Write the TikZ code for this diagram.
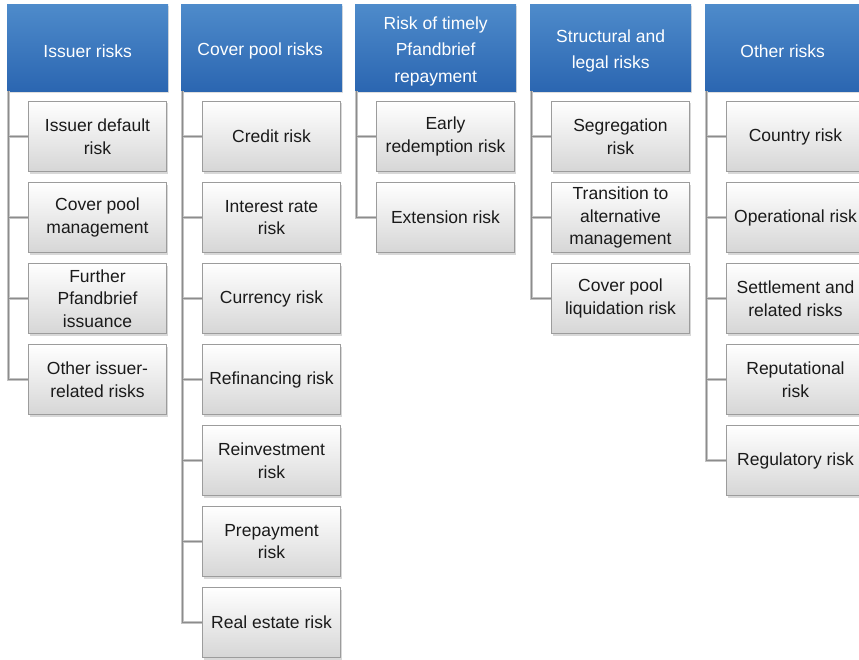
\documentclass[tikz,border=0pt]{standalone}
\usepackage{fontspec}
\setmainfont{Liberation Sans}
\usetikzlibrary{shadows}
\definecolor{hdtop}{HTML}{4E8BCB}
\definecolor{hdbot}{HTML}{2B66B1}
\definecolor{bxbot}{HTML}{D6D6D6}
\definecolor{bxline}{HTML}{9C9C9C}
\definecolor{connc}{HTML}{8C8C8C}
\definecolor{connl}{HTML}{C4C4C4}
\definecolor{txt}{HTML}{1A1A1A}
\tikzset{
  hdr/.style={rectangle, anchor=north west, minimum width=161bp, minimum height=87bp,
    top color=hdtop, bottom color=hdbot, draw=none, inner sep=0pt,
    drop shadow={shadow xshift=1bp, shadow yshift=-1.5bp, opacity=0.25}},
  hdrtext/.style={text=white, align=center, inner sep=0pt,
    font=\fontsize{17.5bp}{26.5bp}\selectfont},
  child/.style={rectangle, anchor=north west, minimum width=138bp, minimum height=70bp,
    top color=white, bottom color=bxbot, draw=bxline, line width=1bp, text=txt,
    align=center, inner sep=0pt, font=\fontsize{17.5bp}{22.5bp}\selectfont,
    drop shadow={shadow xshift=1.5bp, shadow yshift=-2bp, opacity=0.3}},
  conn/.style={draw=connc, line width=1.4bp, preaction={draw=connl, line width=3bp}}
}
\begin{document}
\begin{tikzpicture}[x=1bp, y=-1bp]
\clip (0,0) rectangle (859,660);
\fill[white] (0,0) rectangle (859,660);
% headers
\node[hdr] (h1) at (7,4) {};
\node[hdr] (h2) at (181,4) {};
\node[hdr] (h3) at (355,4) {};
\node[hdr] (h4) at (530,4) {};
\node[hdr] (h5) at (705,4) {};
\node[hdrtext] (t1) at ([yshift=-3.5bp]h1.center) {Issuer risks};
\node[hdrtext] (t2) at ([yshift=-3.5bp,xshift=-1.5bp]h2.center) {Cover pool risks};
\node[hdrtext] (t3) at ([yshift=-3.5bp]h3.center) {Risk of timely\\Pfandbrief\\repayment};
\node[hdrtext] (t4) at ([yshift=-3.5bp]h4.center) {Structural and\\legal risks};
\node[hdrtext] (t5) at ([yshift=-3.5bp,xshift=-3bp]h5.center) {Other risks};
% column 1
\node[child] (a1) at (28,101) {Issuer default\\risk};
\node[child] (a2) at (28,182) {Cover pool\\management};
\node[child] (a3) at (28,263) {Further\\Pfandbrief\\issuance};
\node[child] (a4) at (28,344) {Other issuer-\\related risks};
% column 2
\node[child] (b1) at (202,101) {Credit risk};
\node[child] (b2) at (202,182) {Interest rate\\risk};
\node[child] (b3) at (202,263) {Currency risk};
\node[child] (b4) at (202,344) {Refinancing risk};
\node[child] (b5) at (202,425) {Reinvestment\\risk};
\node[child] (b6) at (202,506) {Prepayment\\risk};
\node[child] (b7) at (202,587) {Real estate risk};
% column 3
\node[child] (c1) at (376,101) {Early\\redemption risk};
\node[child] (c2) at (376,182) {Extension risk};
% column 4
\node[child] (d1) at (551,101) {Segregation\\risk};
\node[child] (d2) at (551,182) {Transition to\\alternative\\management};
\node[child] (d3) at (551,263) {Cover pool\\liquidation risk};
% column 5
\node[child] (e1) at (726,101) {Country risk};
\node[child] (e2) at (726,182) {Operational risk};
\node[child] (e3) at (726,263) {Settlement and\\related risks};
\node[child] (e4) at (726,344) {Reputational\\risk};
\node[child] (e5) at (726,425) {Regulatory risk};
% connectors: trunk from header to last child, then branches to the others
\draw[conn] ([xshift=1.5bp]h1.south west) |- (a4.west);
\foreach \c in {a1,a2,a3} \draw[conn] ([xshift=1.5bp]\c.west -| h1.west) -- (\c.west);
\draw[conn] ([xshift=1.5bp]h2.south west) |- (b7.west);
\foreach \c in {b1,b2,b3,b4,b5,b6} \draw[conn] ([xshift=1.5bp]\c.west -| h2.west) -- (\c.west);
\draw[conn] ([xshift=1.5bp]h3.south west) |- (c2.west);
\foreach \c in {c1} \draw[conn] ([xshift=1.5bp]\c.west -| h3.west) -- (\c.west);
\draw[conn] ([xshift=1.5bp]h4.south west) |- (d3.west);
\foreach \c in {d1,d2} \draw[conn] ([xshift=1.5bp]\c.west -| h4.west) -- (\c.west);
\draw[conn] ([xshift=1.5bp]h5.south west) |- (e5.west);
\foreach \c in {e1,e2,e3,e4} \draw[conn] ([xshift=1.5bp]\c.west -| h5.west) -- (\c.west);
\end{tikzpicture}
\end{document}
